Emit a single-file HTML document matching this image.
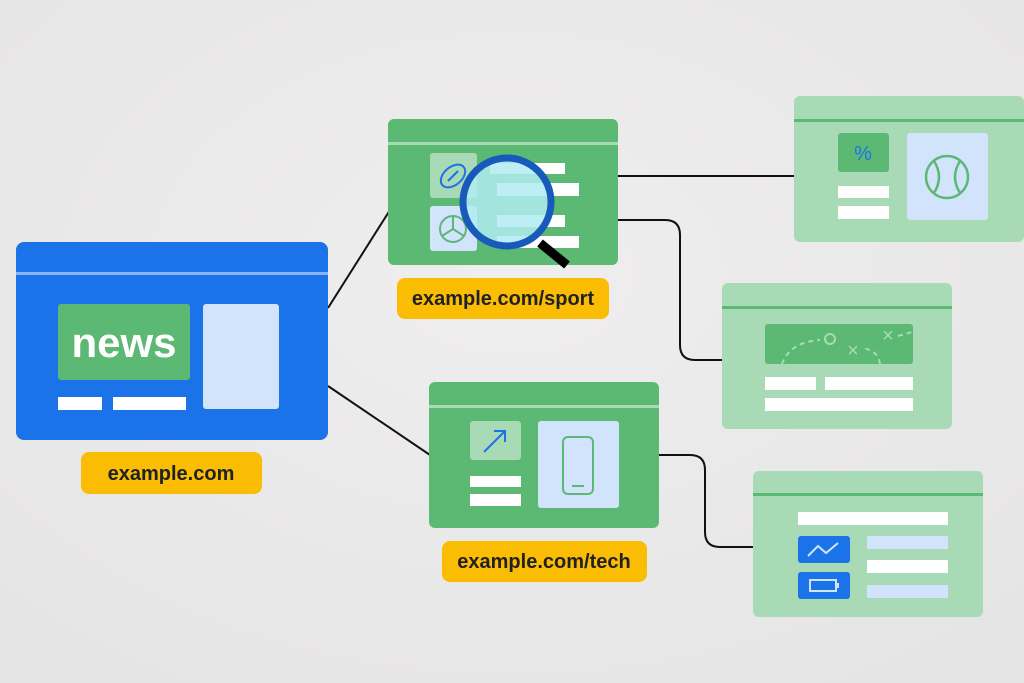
<!DOCTYPE html>
<html><head><meta charset="utf-8"><style>
html,body{margin:0;padding:0;width:1024px;height:683px;overflow:hidden;background:#ebeaea}
svg{display:block}
text{font-family:"Liberation Sans",sans-serif}
</style></head><body>
<svg width="1024" height="683" viewBox="0 0 1024 683">
<defs><radialGradient id="bg" cx="50%" cy="40%" r="70%"><stop offset="0" stop-color="#efeeee"/><stop offset="1" stop-color="#e6e5e5"/></radialGradient></defs>
<rect width="1024" height="683" fill="url(#bg)"/>
<g fill="none" stroke="#111" stroke-width="2">
<line x1="328" y1="308" x2="390" y2="210"/>
<line x1="328" y1="386" x2="430" y2="455"/>
<line x1="618" y1="176" x2="794" y2="176"/>
<path d="M618 220 H665 Q680 220 680 235 V345 Q680 360 695 360 H722"/>
<path d="M659 455 H690 Q705 455 705 470 V532 Q705 547 720 547 H753"/>
</g>
<rect x="16" y="242" width="312" height="198" rx="8" fill="#1a73e8"/>
<rect x="16" y="272" width="312" height="3" fill="#8ab4f8"/>
<rect x="58" y="304" width="132" height="76" rx="3" fill="#5bb974"/>
<text x="124" y="357" font-size="42" font-weight="bold" fill="#fff" text-anchor="middle">news</text>
<rect x="203" y="304" width="76" height="105" rx="3" fill="#d2e3fc"/>
<rect x="58" y="397" width="44" height="13" fill="#fff"/>
<rect x="113" y="397" width="73" height="13" fill="#fff"/>
<rect x="81" y="452" width="181" height="42" rx="8" fill="#fbbc04"/>
<text x="171" y="480" font-size="20" font-weight="bold" fill="#202124" text-anchor="middle">example.com</text>
<rect x="388" y="119" width="230" height="146" rx="6" fill="#5bb974"/>
<rect x="388" y="142" width="230" height="3" fill="#a8dab5"/>
<rect x="430" y="153" width="47" height="45" rx="3" fill="#a8dab5"/>
<rect x="430" y="206" width="47" height="45" rx="3" fill="#d2e3fc"/>
<ellipse cx="453" cy="176" rx="14" ry="9" transform="rotate(-40 453 176)" fill="none" stroke="#1a73e8" stroke-width="2"/>
<line x1="448" y1="181" x2="458" y2="171" stroke="#1a73e8" stroke-width="2"/>
<circle cx="453" cy="229" r="13" fill="none" stroke="#5bb974" stroke-width="2"/>
<path d="M453 216 V229 L442 236 M453 229 L464 236" fill="none" stroke="#5bb974" stroke-width="2"/>
<rect x="490" y="163" width="75" height="11" fill="#fff"/>
<rect x="497" y="183" width="82" height="13" fill="#fff"/>
<rect x="497" y="215" width="68" height="12" fill="#fff"/>
<rect x="497" y="236" width="82" height="12" fill="#fff"/>
<line x1="540" y1="243" x2="567" y2="265" stroke="#000" stroke-width="9"/>
<circle cx="507" cy="202" r="44" fill="#b2ebf2" fill-opacity="0.85" stroke="#185abc" stroke-width="7"/>
<rect x="397" y="278" width="212" height="41" rx="8" fill="#fbbc04"/>
<text x="503" y="305" font-size="20" font-weight="bold" fill="#202124" text-anchor="middle">example.com/sport</text>
<rect x="429" y="382" width="230" height="146" rx="6" fill="#5bb974"/>
<rect x="429" y="405" width="230" height="3" fill="#a8dab5"/>
<rect x="470" y="421" width="51" height="39" rx="3" fill="#a8dab5"/>
<path d="M484 452 L505 431 M494 431 H505 V442" fill="none" stroke="#1a73e8" stroke-width="2"/>
<rect x="470" y="476" width="51" height="11" fill="#fff"/>
<rect x="470" y="494" width="51" height="12" fill="#fff"/>
<rect x="538" y="421" width="81" height="87" rx="3" fill="#d2e3fc"/>
<rect x="563" y="437" width="30" height="57" rx="5" fill="none" stroke="#5bb974" stroke-width="2"/>
<line x1="572" y1="486" x2="584" y2="486" stroke="#5bb974" stroke-width="2"/>
<rect x="442" y="541" width="205" height="41" rx="8" fill="#fbbc04"/>
<text x="544" y="568" font-size="20" font-weight="bold" fill="#202124" text-anchor="middle">example.com/tech</text>
<rect x="794" y="96" width="230" height="146" rx="6" fill="#a8dab5"/>
<rect x="794" y="119" width="230" height="3" fill="#5bb974"/>
<rect x="838" y="133" width="51" height="39" rx="3" fill="#5bb974"/>
<text x="863" y="160" font-size="20" fill="#1a73e8" text-anchor="middle">%</text>
<rect x="838" y="186" width="51" height="12" fill="#fff"/>
<rect x="838" y="206" width="51" height="13" fill="#fff"/>
<rect x="907" y="133" width="81" height="87" rx="3" fill="#d2e3fc"/>
<circle cx="947" cy="177" r="21" fill="none" stroke="#5bb974" stroke-width="2.5"/>
<path d="M934 161 Q944 177 934 193 M960 161 Q950 177 960 193" fill="none" stroke="#5bb974" stroke-width="2.5"/>
<rect x="722" y="283" width="230" height="146" rx="6" fill="#a8dab5"/>
<rect x="722" y="306" width="230" height="3" fill="#5bb974"/>
<rect x="765" y="324" width="148" height="40" rx="3" fill="#5bb974"/>
<path d="M782 364 Q790 342 820 340 M880 364 Q878 350 862 348 M898 336 L912 332" fill="none" stroke="#a8dab5" stroke-width="2" stroke-dasharray="5 4"/>
<circle cx="830" cy="339" r="5" fill="none" stroke="#a8dab5" stroke-width="2"/>
<text x="853" y="357" font-size="20" fill="#a8dab5" text-anchor="middle">×</text>
<text x="888" y="342" font-size="20" fill="#a8dab5" text-anchor="middle">×</text>
<rect x="765" y="377" width="51" height="13" fill="#fff"/>
<rect x="825" y="377" width="88" height="13" fill="#fff"/>
<rect x="765" y="398" width="148" height="13" fill="#fff"/>
<rect x="753" y="471" width="230" height="146" rx="6" fill="#a8dab5"/>
<rect x="753" y="493" width="230" height="3" fill="#5bb974"/>
<rect x="798" y="512" width="150" height="13" fill="#fff"/>
<rect x="798" y="536" width="52" height="27" rx="3" fill="#1a73e8"/>
<path d="M808 556 L818 546 L826 553 L838 543" fill="none" stroke="#d2e3fc" stroke-width="2"/>
<rect x="798" y="572" width="52" height="27" rx="3" fill="#1a73e8"/>
<rect x="810" y="580" width="26" height="11" fill="none" stroke="#d2e3fc" stroke-width="2"/>
<rect x="836" y="583" width="3" height="5" fill="#d2e3fc"/>
<rect x="867" y="536" width="81" height="13" fill="#d2e3fc"/>
<rect x="867" y="560" width="81" height="13" fill="#fff"/>
<rect x="867" y="585" width="81" height="13" fill="#d2e3fc"/>
</svg>
</body></html>
